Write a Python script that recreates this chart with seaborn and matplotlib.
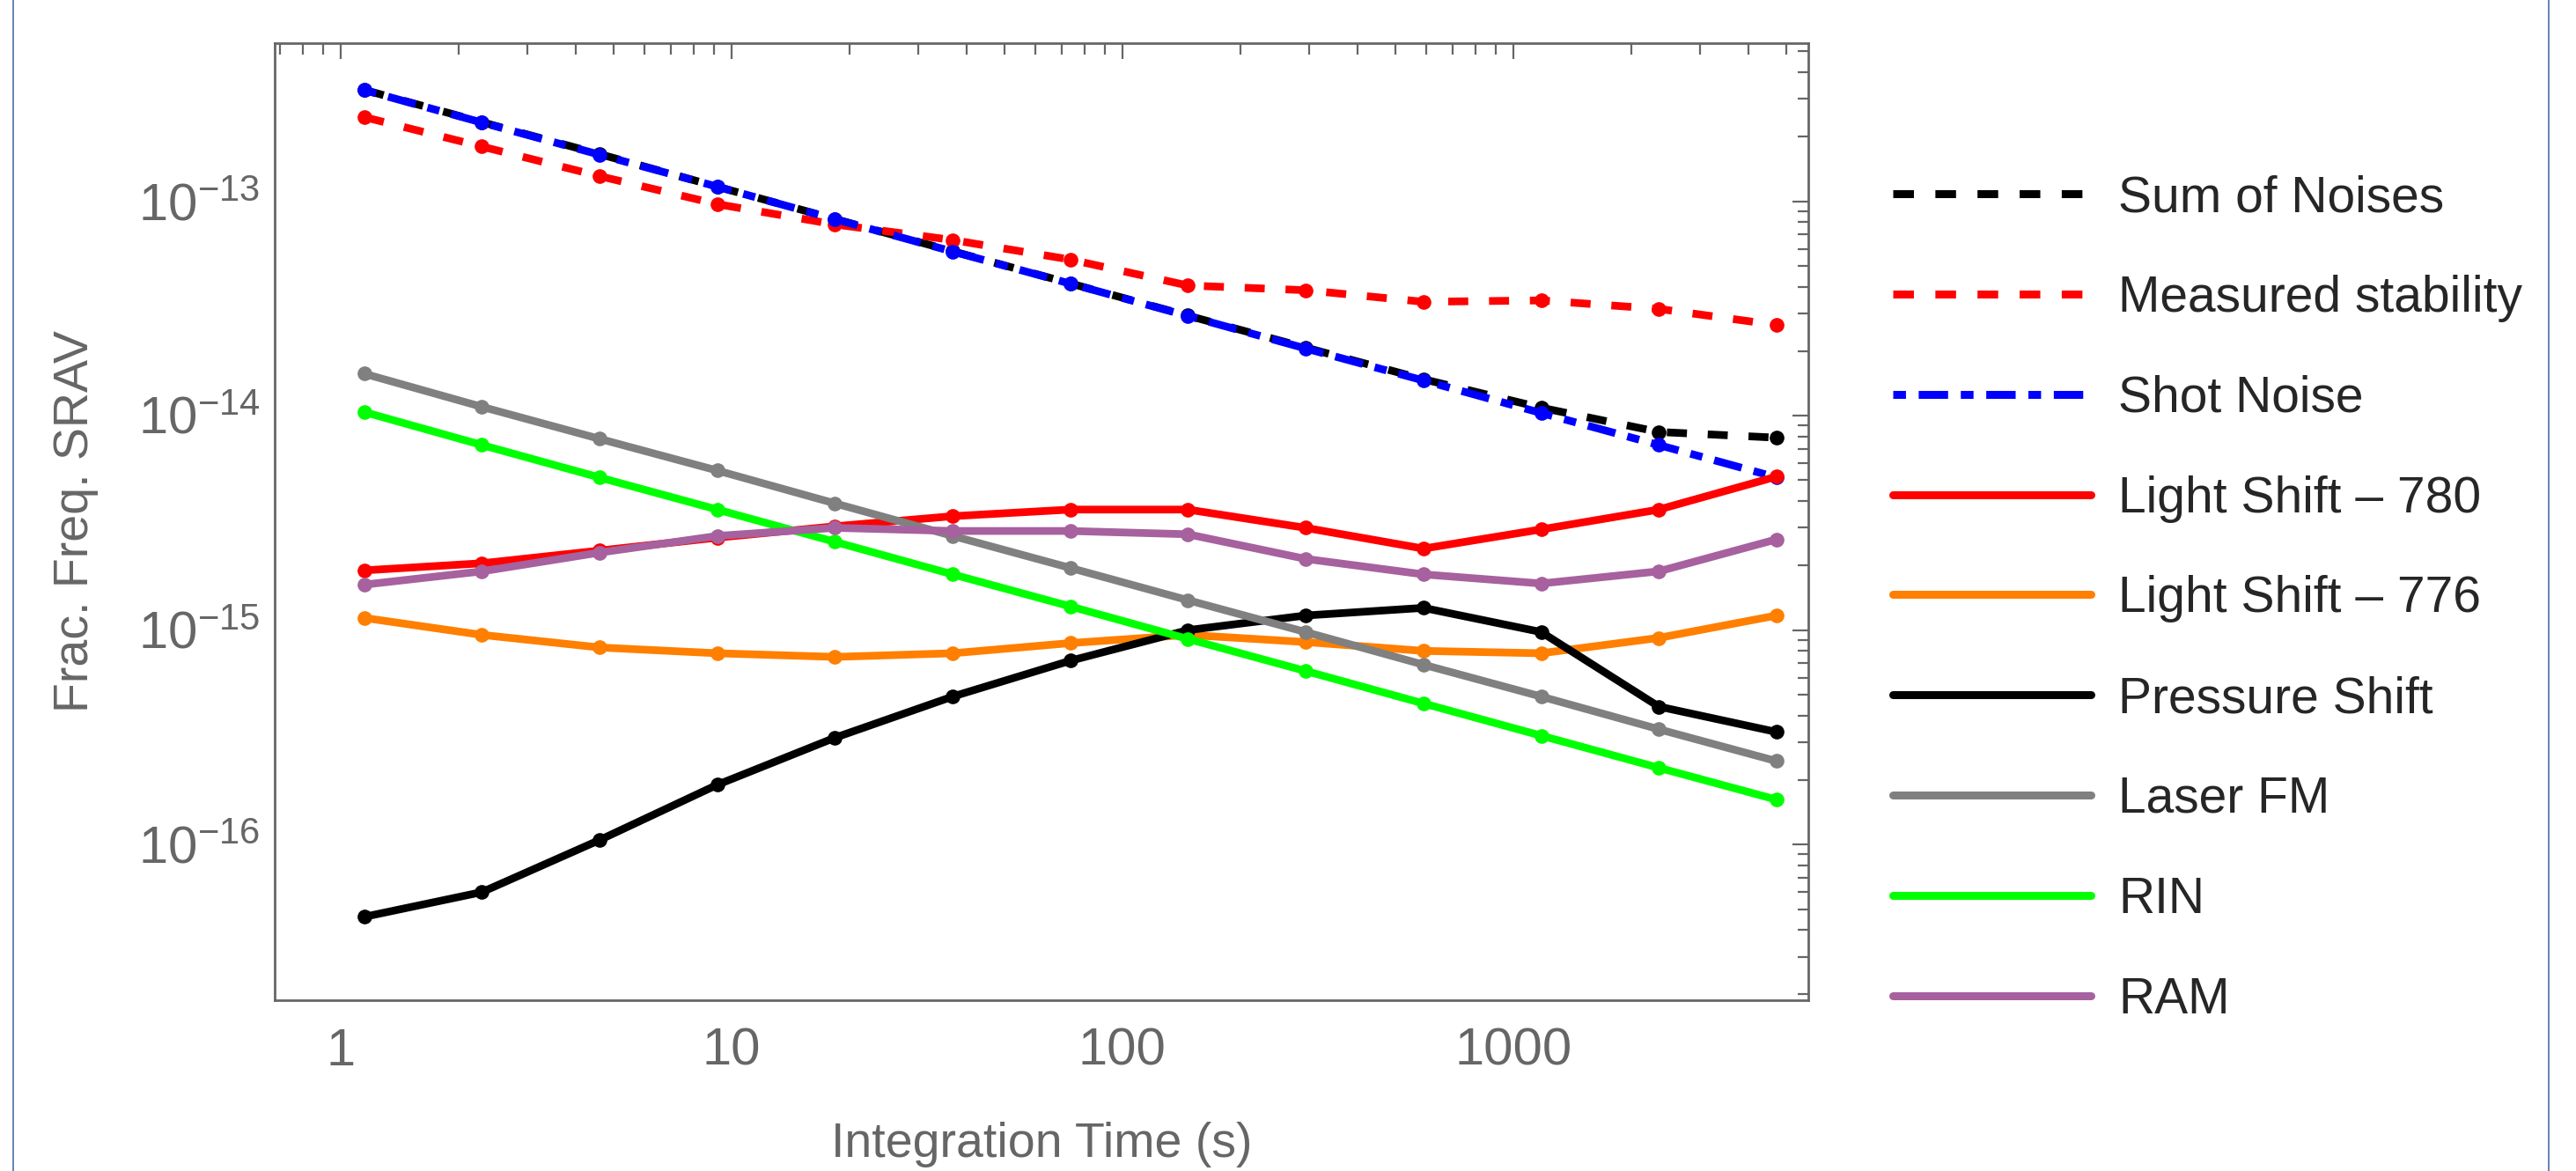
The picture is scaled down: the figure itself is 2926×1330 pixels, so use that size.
# ==========================================
# SRAV NOISE BUDGET - recreated with seaborn
# ==========================================

import numpy as np
import pandas as pd
import seaborn as sns
import matplotlib
matplotlib.use("Agg")
import matplotlib.pyplot as plt
from matplotlib import ticker
from matplotlib.lines import Line2D

# ------------------------------------------
# DATA
# ------------------------------------------

tau = [1.15, 2.3, 4.6, 9.2, 18.4, 36.8, 73.6, 147, 294, 589, 1178, 2355, 4710]

sum_of_noises = [3.31e-13, 2.34e-13, 1.66e-13, 1.17e-13, 8.27e-14, 5.85e-14, 4.14e-14,
                 2.93e-14, 2.08e-14, 1.48e-14, 1.09e-14, 8.4e-15, 7.9e-15]
measured = [2.47e-13, 1.80e-13, 1.31e-13, 9.7e-14, 7.8e-14, 6.6e-14, 5.35e-14,
            4.05e-14, 3.85e-14, 3.4e-14, 3.45e-14, 3.15e-14, 2.65e-14]
shot_noise = [3.30e-13, 2.33e-13, 1.65e-13, 1.17e-13, 8.25e-14, 5.83e-14, 4.13e-14,
              2.92e-14, 2.06e-14, 1.46e-14, 1.03e-14, 7.3e-15, 5.16e-15]
light_780 = [1.9e-15, 2.05e-15, 2.35e-15, 2.7e-15, 3.05e-15, 3.4e-15, 3.65e-15,
             3.65e-15, 3.0e-15, 2.4e-15, 2.95e-15, 3.65e-15, 5.2e-15]
light_776 = [1.14e-15, 9.5e-16, 8.3e-16, 7.8e-16, 7.5e-16, 7.8e-16, 8.7e-16,
             9.5e-16, 8.8e-16, 8.0e-16, 7.8e-16, 9.2e-16, 1.17e-15]
pressure = [4.6e-17, 6.0e-17, 1.05e-16, 1.9e-16, 3.15e-16, 4.9e-16, 7.2e-16,
            1.0e-15, 1.17e-15, 1.27e-15, 9.8e-16, 4.4e-16, 3.35e-16]
laser_fm = [1.57e-14, 1.1e-14, 7.8e-15, 5.55e-15, 3.9e-15, 2.75e-15, 1.95e-15,
            1.38e-15, 9.8e-16, 6.9e-16, 4.9e-16, 3.45e-16, 2.45e-16]
rin = [1.04e-14, 7.3e-15, 5.15e-15, 3.65e-15, 2.58e-15, 1.82e-15, 1.29e-15,
       9.1e-16, 6.45e-16, 4.55e-16, 3.22e-16, 2.28e-16, 1.62e-16]
ram = [1.63e-15, 1.88e-15, 2.3e-15, 2.75e-15, 3.0e-15, 2.9e-15, 2.9e-15,
       2.8e-15, 2.15e-15, 1.82e-15, 1.65e-15, 1.88e-15, 2.65e-15]

labels = ["Sum of Noises", "Measured stability", "Shot Noise", "Light Shift \u2013 780",
          "Light Shift \u2013 776", "Pressure Shift", "Laser FM", "RIN", "RAM"]
series = [sum_of_noises, measured, shot_noise, light_780, light_776,
          pressure, laser_fm, rin, ram]
colors = ["#000000", "#ff0000", "#0000ff", "#ff0000", "#ff7f00",
          "#000000", "#808080", "#00ff00", "#a6619e"]
styles = [(0, (2.6, 2.7)), (0, (2.6, 2.7)), (0, (1.6, 1.6, 3.7, 1.6)), "-",
          "-", "-", "-", "-", "-"]

y_major = [1e-16, 1e-15, 1e-14, 1e-13]
x_major = [1, 10, 100, 1000]

# ------------------------------------------
# STYLE
# ------------------------------------------

sns.set_style("white")
plt.rcParams["font.family"] = ["Liberation Sans", "DejaVu Sans"]
plt.rcParams["mathtext.fontset"] = "custom"
plt.rcParams["mathtext.rm"] = "Liberation Sans"
plt.rcParams["mathtext.it"] = "Liberation Sans"
plt.rcParams["mathtext.default"] = "regular"

axis_grey = "#666666"

fig = plt.figure(figsize=(29.26, 13.30), dpi=100)
fig.subplots_adjust(left=0.1066, right=0.702, top=0.9632, bottom=0.1459)
ax = fig.add_subplot(111)
ax.set_xscale("log")
ax.set_yscale("log")

# ------------------------------------------
# LINES
# ------------------------------------------

for name, vals, col, ls in zip(labels, series, colors, styles):
    df = pd.DataFrame({"tau": tau, "adev": vals})
    sns.lineplot(data=df, x="tau", y="adev", ax=ax, color=col, linewidth=6.3,
                 linestyle=ls, marker="o", markersize=12, markeredgewidth=0,
                 markeredgecolor=col, errorbar=None, label=name, legend=False)

ax.set_xlim(0.678, 5684)
ax.set_ylim(1.88e-17, 5.47e-13)

# ------------------------------------------
# AXES / TICKS
# ------------------------------------------

for sp in ax.spines.values():
    sp.set_color(axis_grey)
    sp.set_linewidth(2)

ax.xaxis.set_major_locator(ticker.FixedLocator(x_major))
ax.xaxis.set_major_formatter(ticker.FuncFormatter(lambda v, p: f"{v:g}"))
ax.xaxis.set_minor_locator(ticker.LogLocator(base=10, subs=np.arange(2, 10), numticks=50))
ax.xaxis.set_minor_formatter(ticker.NullFormatter())
ax.yaxis.set_major_locator(ticker.FixedLocator(y_major))
ax.yaxis.set_major_formatter(ticker.LogFormatterSciNotation())
ax.yaxis.set_minor_locator(ticker.LogLocator(base=10, subs=np.arange(2, 10), numticks=50))
ax.yaxis.set_minor_formatter(ticker.NullFormatter())

ax.tick_params(which="both", direction="in", top=True, right=True,
               color=axis_grey, labelcolor=axis_grey, width=1.6)
ax.tick_params(which="major", length=13, labelsize=43)
ax.tick_params(which="minor", length=9)
ax.tick_params(axis="x", which="major", pad=22)
ax.tick_params(axis="y", which="major", pad=12)

ax.set_xlabel("Integration Time (s)", fontsize=40, color=axis_grey, labelpad=38)
ax.set_ylabel("Frac. Freq. SRAV", fontsize=40, color=axis_grey, labelpad=32)

# ------------------------------------------
# LEGEND (lines only, no markers)
# ------------------------------------------

handles = [Line2D([0], [0], color=c, lw=6.5, linestyle=s) for c, s in zip(colors, styles)]
fig.legend(handles, labels, loc="upper left", bbox_to_anchor=(0.7348, 0.851),
           frameon=False, fontsize=41, handlelength=3.95, handletextpad=0.55,
           labelspacing=1.05, borderpad=0, borderaxespad=0)

# thin blue frame lines on the left and right edge
fig.add_artist(Line2D([0.0051, 0.0051], [0, 1], transform=fig.transFigure,
                      color="#4a6fa5", lw=1.2))
fig.add_artist(Line2D([0.9895, 0.9895], [0, 1], transform=fig.transFigure,
                      color="#4a6fa5", lw=1.2))

fig.savefig("out.png", dpi=100)
